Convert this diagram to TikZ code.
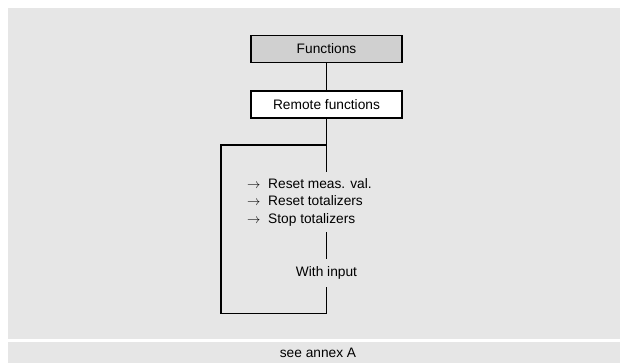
\documentclass[tikz,border=0pt]{standalone}
\usepackage{fontspec}
\setmainfont{Liberation Sans}
\usepackage{xcolor}
\usetikzlibrary{positioning}
\definecolor{panelgray}{HTML}{E6E6E6}
\definecolor{headgray}{HTML}{D0D0D0}

\begin{document}
\begin{tikzpicture}[
        x=0.75pt,y=-0.75pt,
        every node/.style={font=\fontsize{10.3}{13.1}\selectfont},
        menubox/.style={
            draw=black,
            line width=1.2pt,
            minimum width=113pt,
            minimum height=20pt,
            inner sep=0pt,
            fill=white
        },
        link/.style={line width=1.2pt,black},
        note/.style={align=left,inner sep=0pt}
    ]
        \useasboundingbox (0,0) rectangle (620,363);
        \fill[white] (0,0) rectangle (620,363);
        \fill[panelgray] (8,8) rectangle (620,339);
        \fill[panelgray] (8,342) rectangle (620,363);

        \node[menubox,fill=headgray] (func) at (326.5,49) {Functions};
        \node[menubox] (remote) at (326.5,104.5) {Remote functions};
        \node[note,minimum height=45pt] (acts) at (309.5,202)
            {$\rightarrow$\ \ Reset meas. val.\\$\rightarrow$\ \ Reset totalizers\\$\rightarrow$\ \ Stop totalizers};
        \node[inner sep=0pt,minimum height=21pt] (input) at (326.5,273) {With input};
        \node (annex) at (318,353) {see annex A};

        \coordinate (loopbot) at (326.5,313.5);
        \coordinate (looptop) at (326.5,145);

        \draw[link] (func) -- (remote);
        \draw[link] (remote) -- (remote.south |- acts.north);
        \draw[link] (remote.south |- acts.south) -- (input);
        \draw[link] (input) -- (loopbot) -| (221,145) -- (looptop);
    \end{tikzpicture}
\end{document}
